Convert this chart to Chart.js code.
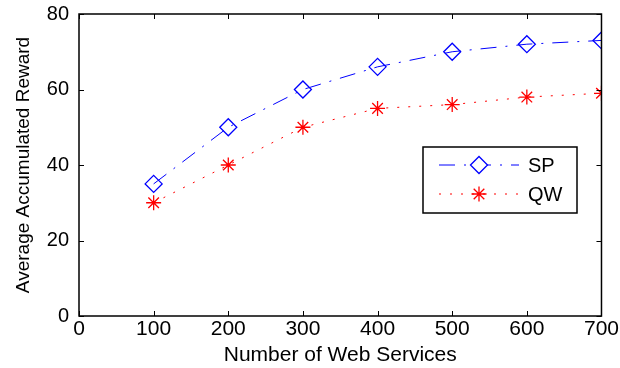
<!DOCTYPE html>
<html>
<head>
<meta charset="utf-8">
<script src="https://cdn.jsdelivr.net/npm/chart.js@4/dist/chart.umd.min.js"></script>
<style>
  html, body { margin: 0; padding: 0; background: #fff; }
  #wrap { width: 620px; height: 368px; }
</style>
</head>
<body>
<div id="wrap"><canvas id="c" width="620" height="368"></canvas></div>
<script>
// Number of web services on the x axis
const services = [100, 200, 300, 400, 500, 600, 700];
// Average accumulated reward for each method
const spReward = [35, 50, 60, 66, 70, 72, 73];
const qwReward = [30, 40, 50, 55, 56, 58, 59];
const seriesNames = ['SP', 'QW'];

const FONT = 'Liberation Sans, Arial, sans-serif';

const toPoints = vals => services.map((s, i) => ({ x: s, y: vals[i] }));

// Box around the plot area with inward-pointing ticks on all four sides
const frame = {
  id: 'frame',
  afterDatasetsDraw(chart) {
    const { ctx, chartArea: a, scales } = chart;
    ctx.save();
    ctx.strokeStyle = '#000';
    ctx.lineWidth = 1.5;
    ctx.strokeRect(a.left, a.top, a.right - a.left, a.bottom - a.top);
    ctx.lineWidth = 1;
    ctx.beginPath();
    scales.x.ticks.forEach(t => {
      const px = Math.round(scales.x.getPixelForValue(t.value)) + 0.5;
      ctx.moveTo(px, a.bottom); ctx.lineTo(px, a.bottom - 5);
      ctx.moveTo(px, a.top); ctx.lineTo(px, a.top + 5);
    });
    scales.y.ticks.forEach(t => {
      const py = Math.round(scales.y.getPixelForValue(t.value)) + 0.5;
      ctx.moveTo(a.left, py); ctx.lineTo(a.left + 5, py);
      ctx.moveTo(a.right, py); ctx.lineTo(a.right - 5, py);
    });
    ctx.stroke();
    ctx.restore();
  }
};

// Boxed legend inside the plot area
const boxLegend = {
  id: 'boxLegend',
  afterDraw(chart) {
    const { ctx } = chart;
    const bx = 423, by = 147, bw = 154, bh = 66;
    ctx.save();
    ctx.fillStyle = '#fff';
    ctx.fillRect(bx, by, bw, bh);
    ctx.strokeStyle = '#000';
    ctx.lineWidth = 1.5;
    ctx.strokeRect(bx, by, bw, bh);
    chart.data.datasets.forEach((ds, i) => {
      const y = 165 + i * 29;
      ctx.save();
      ctx.strokeStyle = ds.borderColor;
      ctx.lineWidth = 1;
      ctx.setLineDash(ds.borderDash);
      ctx.beginPath();
      ctx.moveTo(439, y); ctx.lineTo(519, y);
      ctx.stroke();
      ctx.restore();
      ctx.strokeStyle = ds.pointBorderColor;
      ctx.lineWidth = ds.pointBorderWidth;
      Chart.helpers.drawPoint(ctx, { pointStyle: ds.pointStyle, radius: ds.pointRadius, borderWidth: ds.pointBorderWidth, rotation: 0 }, 479, y);
      ctx.fillStyle = '#000';
      ctx.font = '20px ' + FONT;
      ctx.textBaseline = 'middle';
      ctx.textAlign = 'left';
      ctx.fillText(ds.label, 528, y + 1);
    });
    ctx.restore();
  }
};

new Chart(document.getElementById('c'), {
  type: 'line',
  data: {
    datasets: [
      {
        label: seriesNames[0],
        data: toPoints(spReward),
        borderColor: '#0000ff',
        borderWidth: 1,
        borderDash: [16, 9, 2, 9],
        pointStyle: 'rectRot',
        pointRadius: 8.5,
        pointBorderColor: '#0000ff',
        pointBorderWidth: 1.3,
        pointBackgroundColor: 'rgba(0,0,0,0)',
        fill: false,
        tension: 0
      },
      {
        label: seriesNames[1],
        data: toPoints(qwReward),
        borderColor: '#ff0000',
        borderWidth: 1,
        borderDash: [2, 9],
        pointStyle: 'star',
        pointRadius: 7.5,
        pointBorderColor: '#ff0000',
        pointBorderWidth: 1.3,
        pointBackgroundColor: 'rgba(0,0,0,0)',
        fill: false,
        tension: 0
      }
    ]
  },
  options: {
    responsive: false,
    animation: false,
    layout: { padding: { top: 14, right: 18, left: 0, bottom: 0 } },
    plugins: { legend: { display: false }, tooltip: { enabled: false } },
    scales: {
      x: {
        type: 'linear',
        min: 0, max: 700,
        ticks: { stepSize: 100, color: '#000', font: { family: FONT, size: 21 }, padding: 1, maxRotation: 0 },
        grid: { display: false, drawTicks: false },
        border: { display: false },
        title: { display: true, text: 'Number of Web Services', color: '#000', font: { family: FONT, size: 21 }, padding: { top: 0, bottom: 0 } },
        afterFit(s) { s.height = 52; }
      },
      y: {
        min: 0, max: 80,
        ticks: { stepSize: 20, color: '#000', font: { family: FONT, size: 20, lineHeight: 0.4 }, padding: 10 },
        grid: { display: false, drawTicks: false },
        border: { display: false },
        title: { display: true, text: 'Average Accumulated Reward', color: '#000', font: { family: FONT, size: 19 }, padding: { top: 12, bottom: 0 } },
        afterFit(s) { s.width = 79; }
      }
    }
  },
  plugins: [frame, boxLegend]
});
</script>
</body>
</html>
